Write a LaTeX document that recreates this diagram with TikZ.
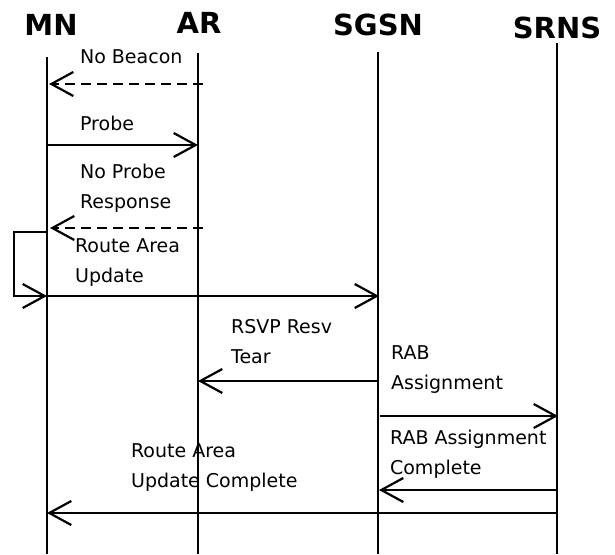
\documentclass[tikz,border=0pt]{standalone}
\usepackage{fontspec}
\setmainfont{DejaVu Sans}
\usetikzlibrary{arrows.meta}
\begin{document}
\begin{tikzpicture}[x=1pt,y=-1pt,
  line width=2.2pt,
  head/.style={font=\bfseries\fontsize{29}{32}\selectfont, anchor=base, inner sep=0pt},
  msg/.style={font=\fontsize{19}{30}\selectfont, align=left, anchor=base west, inner sep=0pt},
  life/.style={line width=2.2pt},
  arr/.style={-{Straight Barb[length=22pt,width=24pt]}},
  dsh/.style={arr, dash pattern=on 10pt off 6pt}]
\useasboundingbox (0,0) rectangle (615,554);

% participants
\node[head] (hMN)   at (51,35)  {MN};
\node[head] (hAR)   at (199,33) {AR};
\node[head] (hSGSN) at (378,35) {SGSN};
\node[head] (hSRNS) at (557,38) {SRNS};

% lifelines
\coordinate (tMN) at (47,57);    \coordinate (bMN) at (47,554);
\coordinate (tAR) at (198,53);   \coordinate (bAR) at (198,554);
\coordinate (tSG) at (378,52);   \coordinate (bSG) at (378,554);
\coordinate (tSR) at (557,43);   \coordinate (bSR) at (557,554);
\draw[life] (tMN) -- (bMN);
\draw[life] (tAR) -- (bAR);
\draw[life] (tSG) -- (bSG);
\draw[life] (tSR) -- (bSR);

% message end points
\coordinate (a1) at (203,84);  \coordinate (m1) at (49,84);
\coordinate (m2) at (47,145);  \coordinate (a2) at (198,145);
\coordinate (a3) at (203,228); \coordinate (m3) at (50,228);
\coordinate (m4) at (47,232);  \coordinate (lp) at (14,296);
\coordinate (m5) at (47,296);  \coordinate (s5) at (379,296);
\coordinate (s6) at (378,381); \coordinate (a6) at (198,381);
\coordinate (s7) at (380,416); \coordinate (r7) at (558,416);
\coordinate (r8) at (557,490); \coordinate (s8) at (379,490);
\coordinate (r9) at (557,513); \coordinate (m9) at (47,513);

% messages
\draw[dsh] (a1) -- (m1);
\draw[arr] (m2) -- (a2);
\draw[dsh] (a3) -- (m3);
\draw[arr] (m4) -| (lp) -- (m5);
\draw[arr] (m5) -- (s5);
\draw[arr] (s6) -- (a6);
\draw[arr] (s7) -- (r7);
\draw[arr] (r8) -- (s8);
\draw[arr] (r9) -- (m9);

% labels (anchored at the baseline of their last line)
\node[msg] (l1) at (79,63)   {No Beacon};
\node[msg] (l2) at (79,130)  {Probe};
\node[msg] (l3) at (79,208)  {No Probe\\Response};
\node[msg] (l4) at (74,282)  {Route Area\\Update};
\node[msg] (l5) at (230,363) {RSVP Resv\\Tear};
\node[msg] (l6) at (390,389) {RAB\\Assignment};
\node[msg] (l7) at (389,474) {RAB Assignment\\Complete};
\node[msg] (l8) at (130,487) {Route Area\\Update Complete};
\end{tikzpicture}
\end{document}
